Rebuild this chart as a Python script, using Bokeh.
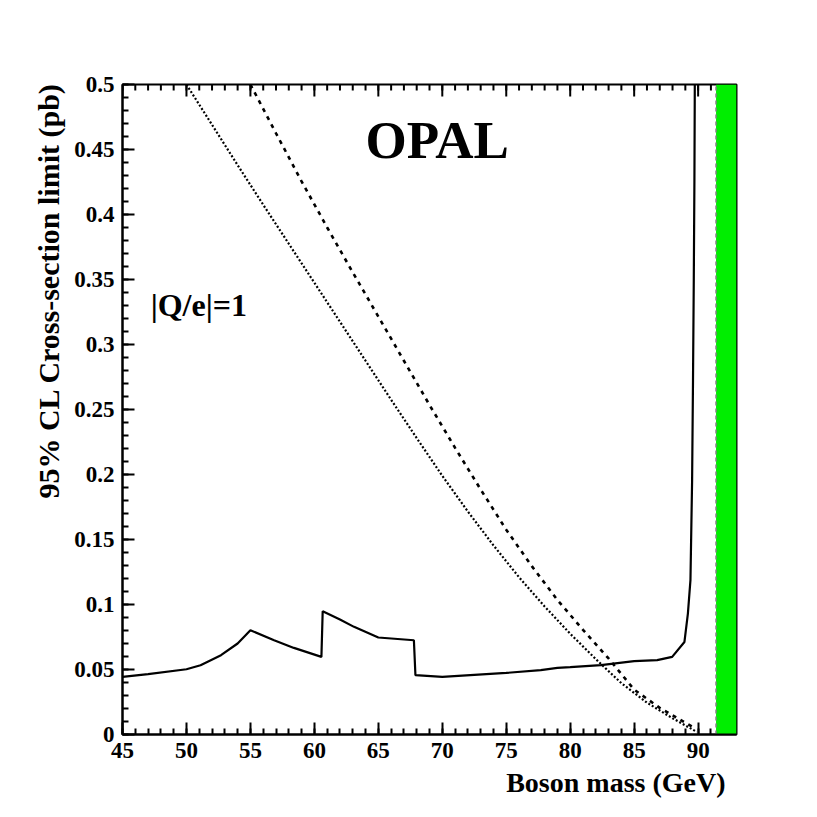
import math
from bokeh.plotting import figure
from bokeh.models import Range1d, FixedTicker, Label, Title
from bokeh.embed import file_html
from bokeh.resources import INLINE

# ---- data ----
# observed 95% CL cross-section limit (solid)
mass_obs = [45.0, 47.0, 50.0, 51.1, 52.7, 54.0, 55.0, 56.85, 58.4, 60.55,
            60.65, 62.0, 63.1, 65.0, 67.78, 67.9, 70.0, 75.0, 77.7, 79.0,
            80.0, 82.4, 85.0, 86.8, 87.97, 88.93, 89.2, 89.4, 89.53, 89.6,
            89.66, 89.71, 89.74]
limit_obs = [0.0443, 0.0465, 0.0502, 0.0533, 0.061, 0.070, 0.0802, 0.0725, 0.0666, 0.0597,
             0.0948, 0.0885, 0.0828, 0.0746, 0.0725, 0.0456, 0.0443, 0.0474, 0.0495, 0.0512,
             0.0518, 0.0533, 0.0564, 0.0572, 0.0597, 0.0712, 0.093, 0.1187, 0.1956, 0.2726,
             0.349, 0.426, 0.5]

# predicted cross-section (dashed)
mass_dash = [55, 57, 59, 61, 63, 65, 67, 69, 71, 73, 75, 77, 79, 81, 83, 85, 87, 89, 89.8]
xsec_dash = [0.500, 0.4625, 0.4255, 0.3900, 0.3555, 0.3215, 0.2875, 0.2535, 0.2205, 0.1885,
             0.1575, 0.1295, 0.1035, 0.0805, 0.0585, 0.0345, 0.0205, 0.009, 0.0046]

# predicted cross-section (dotted)
mass_dot = [50, 52, 54, 56, 58, 60, 62, 64, 66, 68, 70, 72, 74, 76, 78, 80, 82, 84, 86, 88, 89.9]
xsec_dot = [0.500, 0.469, 0.438, 0.4075, 0.3775, 0.3475, 0.3175, 0.2875, 0.2575, 0.228, 0.199,
            0.1715, 0.1455, 0.121, 0.0985, 0.0775, 0.058, 0.0395, 0.0245, 0.0125, 0.002]

# excluded band (green) and its edge
band_mass = [91.4, 93.0]
band_xsec = [0.0, 0.5]

x_ticks = [45, 50, 55, 60, 65, 70, 75, 80, 85, 90]
x_tick_labels = ["45", "50", "55", "60", "65", "70", "75", "80", "85", "90"]
y_ticks = [0, 0.05, 0.1, 0.15, 0.2, 0.25, 0.3, 0.35, 0.4, 0.45, 0.5]
y_tick_labels = ["0", "0.05", "0.1", "0.15", "0.2", "0.25", "0.3", "0.35", "0.4", "0.45", "0.5"]

x_minor = list(range(45, 92))
y_minor = [round(i * 0.01, 2) for i in range(51)]

FONT = "Liberation Serif"
X0, X1, Y0, Y1 = 45, 93, 0, 0.5

p = figure(frame_width=614, frame_height=650, output_backend="svg", toolbar_location=None,
           x_range=Range1d(X0, X1), y_range=Range1d(Y0, Y1),
           min_border_left=122, min_border_right=71, min_border_top=84, min_border_bottom=80)
p.background_fill_color = "white"
p.border_fill_color = "white"
p.grid.visible = False
p.outline_line_color = "black"
p.outline_line_width = 2

# ticks on the top edge (pointing down into the frame)
p.ray(x=x_ticks, y=[Y1] * len(x_ticks), length=12, length_units="screen",
      angle=-math.pi / 2, line_color="black", line_width=2)
p.ray(x=x_minor, y=[Y1] * len(x_minor), length=6, length_units="screen",
      angle=-math.pi / 2, line_color="black", line_width=2)

# green band and dashed edge
p.quad(left=[band_mass[0]], right=[band_mass[1]], bottom=[band_xsec[0]], top=[band_xsec[1]],
       fill_color="#00ee00", line_color=None)
p.line([band_mass[0], band_mass[0]], band_xsec, line_color="#808080", line_width=1.5, line_dash="4 3")

# curves
p.line(mass_dot, xsec_dot, line_color="black", line_width=2.2, line_dash="2 2")
p.line(mass_dash, xsec_dash, line_color="black", line_width=2.6, line_dash="4 5")
p.line(mass_obs, limit_obs, line_color="black", line_width=2.2)

def style_axis(ax, ticks, minor, labels):
    ax.ticker = FixedTicker(ticks=ticks, minor_ticks=minor)
    ax.major_label_overrides = {t: s for t, s in zip(ticks, labels)}
    ax.major_tick_in = 12
    ax.major_tick_out = 0
    ax.minor_tick_in = 6
    ax.minor_tick_out = 0
    ax.major_tick_line_width = 2
    ax.minor_tick_line_width = 2
    ax.axis_line_width = 2
    ax.major_label_text_font = FONT
    ax.major_label_text_font_style = "bold"
    ax.major_label_text_font_size = "23px"
    ax.major_label_text_color = "black"
    ax.major_label_standoff = 8

style_axis(p.xaxis[0], x_ticks, x_minor, x_tick_labels)
style_axis(p.yaxis[0], y_ticks, y_minor, y_tick_labels)

# axis titles
p.add_layout(Title(text="Boson mass (GeV)", align="right", offset=11, standoff=8,
                   text_font=FONT, text_font_style="bold", text_font_size="28px",
                   text_color="black"), "below")
p.add_layout(Title(text="95% CL Cross-section limit (pb)", align="right", offset=-2, standoff=14,
                   text_font=FONT, text_font_style="bold", text_font_size="30px",
                   text_color="black"), "left")

# in-frame texts
p.add_layout(Label(x=64.0, y=0.457, text="OPAL", text_font=FONT, text_font_style="bold",
                   text_font_size="53px", text_color="black", text_baseline="alphabetic"))
p.add_layout(Label(x=47.2, y=0.3302, text="|Q/e|=1", text_font=FONT, text_font_style="bold",
                   text_font_size="32px", text_color="black", text_baseline="alphabetic"))

open("out.html", "w").write(file_html(p, INLINE))
